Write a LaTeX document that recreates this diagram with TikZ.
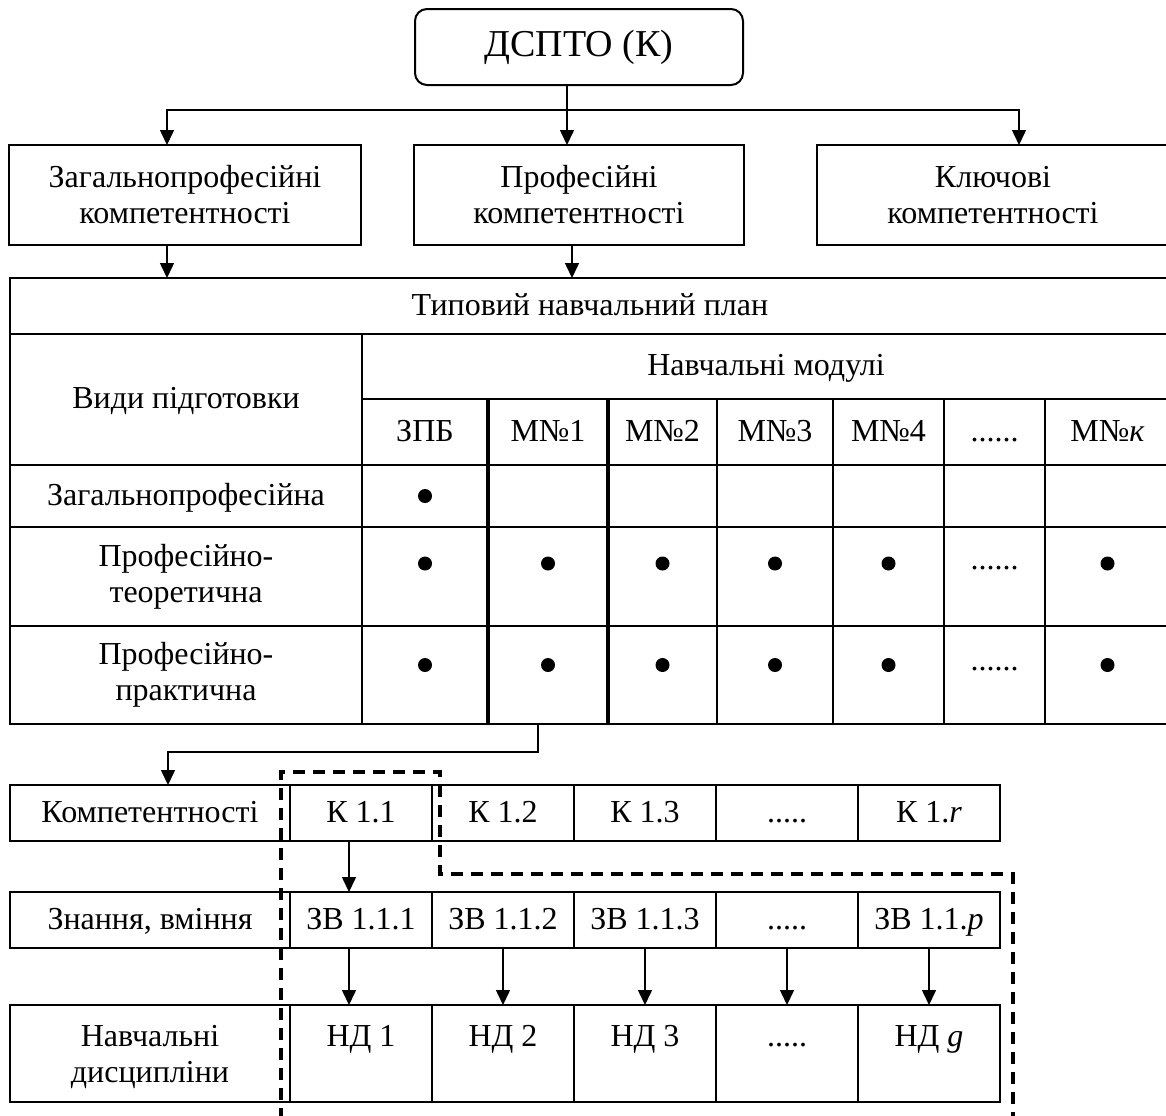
\documentclass[tikz,border=0pt]{standalone}
\usepackage{fontspec}
\setmainfont{Liberation Serif}
\usetikzlibrary{arrows.meta,positioning}
\newcommand{\modgap}{......}
\newcommand{\ndtop}{\rule{0pt}{16pt}\strut}

\begin{document}
\begin{tikzpicture}[x=0.5pt, y=-0.5pt, >={Triangle[length=7.5pt,width=7pt]}, line width=0.75pt]

    \tikzstyle{box} = [rectangle, draw=black, line width=1pt, inner sep=0pt, outer sep=0pt, align=center, font=\fontsize{16}{18}\selectfont]
    \tikzstyle{oneline} = [text height=0.9em, text depth=0pt]
    \tikzstyle{kcell} = [box, oneline, minimum width=71pt, minimum height=28pt]
    \tikzstyle{ndcell} = [box, minimum width=71pt, minimum height=48.5pt]
    \tikzstyle{dot} = [circle, fill=black, inner sep=0pt, minimum size=7pt]
    \tikzstyle{modline} = [line width=2pt]
    \tikzstyle{cut} = [line width=2pt, dash pattern=on 6pt off 4pt]

    \useasboundingbox (0,0) rectangle (1166,1115);

    \node (dspto)  [box, rounded corners=6pt, minimum width=164pt, minimum height=38pt, font=\fontsize{19}{22}\selectfont] at (579,47) {ДСПТО (К)};

    \node (prof)   [box, minimum width=165pt, minimum height=50pt, below=30pt of dspto]   {Професійні\\компетентності};
    \node (zag)    [box, minimum width=176pt, minimum height=50pt, left=26.5pt of prof]   {Загальнопрофесійні\\компетентності};
    \node (kluch)  [box, minimum width=176pt, minimum height=50pt, right=36.5pt of prof]  {Ключові\\компетентності};

    % typical plan
    \node (plan)   [box, oneline, minimum width=580pt, minimum height=28pt]   at (590,306)   {Типовий навчальний план};
    \node (vydy)   [box, oneline, minimum width=176pt, minimum height=65.5pt] at (186,399.5) {Види підготовки};
    \node (moduli) [box, oneline, minimum width=404pt, minimum height=32.5pt] at (766,366.5) {Навчальні модулі};
    \node (zrow)   [box, oneline, minimum width=176pt, minimum height=31pt]   at (186,496)   {Загальнопрофесійна};
    \node (trow)   [box, minimum width=176pt, minimum height=49.5pt] at (186,576.5) {Професійно-\\теоретична};
    \node (prow)   [box, minimum width=176pt, minimum height=49pt]   at (186,675)   {Професійно-\\практична};

    \foreach \xa/\xb/\t [count=\i] in {362/488/ЗПБ, 488/608/М№1, 608/717/М№2, 717/833/М№3, 833/944/М№4, 944/1045/\modgap, 1045/1170/М№\textit{к}}
    {
        \node (h\i) [box, oneline, minimum width={(\xb-\xa)/2}, minimum height=33pt]   at ({(\xa+\xb)/2},432)   {\t};
        \node (z\i) [box, minimum width={(\xb-\xa)/2}, minimum height=31pt]   at ({(\xa+\xb)/2},496)   {};
        \node (t\i) [box, minimum width={(\xb-\xa)/2}, minimum height=49.5pt] at ({(\xa+\xb)/2},576.5) {};
        \node (p\i) [box, minimum width={(\xb-\xa)/2}, minimum height=49pt]   at ({(\xa+\xb)/2},675)   {};
    }

    \node (zd1) [dot] at (z1.center) {};
    \foreach \i in {1,2,3,4,5,7}
    {
        \node (td\i) [dot] at ([yshift=6.5pt]t\i.center) {};
        \node (pd\i) [dot] at ([yshift=5pt]p\i.center) {};
    }
    \node (tdots) [font=\fontsize{16}{18}\selectfont, inner sep=0pt] at ([yshift=4.2pt]t6.center) {\modgap};
    \node (pdots) [font=\fontsize{16}{18}\selectfont, inner sep=0pt] at ([yshift=3pt]p6.center) {\modgap};

    \draw[modline] (h2.north west) -- (p2.south west) (h2.north east) -- (p2.south east);

    % competences, knowledge, disciplines
    \node (komp)  [box, oneline, minimum width=140pt, minimum height=28pt] at (150,813) {Компетентності};
    \node (k1)    [kcell, right=0pt of komp]  {К 1.1};
    \node (k2)    [kcell, right=0pt of k1]    {К 1.2};
    \node (k3)    [kcell, right=0pt of k2]    {К 1.3};
    \node (k4)    [kcell, right=0pt of k3]    {.....};
    \node (k5)    [kcell, right=0pt of k4]    {К 1.\textit{r}};

    \node (znan)  [box, oneline, minimum width=140pt, minimum height=28pt, below=25.5pt of komp] {Знання, вміння};
    \node (zv1)   [kcell, right=0pt of znan]  {ЗВ 1.1.1};
    \node (zv2)   [kcell, right=0pt of zv1]   {ЗВ 1.1.2};
    \node (zv3)   [kcell, right=0pt of zv2]   {ЗВ 1.1.3};
    \node (zv4)   [kcell, right=0pt of zv3]   {.....};
    \node (zv5)   [kcell, right=0pt of zv4]   {ЗВ 1.1.\textit{p}};

    \node (ndrow) [box, minimum width=140pt, minimum height=48.5pt, below=28.5pt of znan] {\ndtop Навчальні\\\strut дисципліни};
    \node (nd1)   [ndcell, right=0pt of ndrow] {\ndtop НД 1\\\strut};
    \node (nd2)   [ndcell, right=0pt of nd1]   {\ndtop НД 2\\\strut};
    \node (nd3)   [ndcell, right=0pt of nd2]   {\ndtop НД 3\\\strut};
    \node (nd4)   [ndcell, right=0pt of nd3]   {\ndtop .....\\\strut};
    \node (nd5)   [ndcell, right=0pt of nd4]   {\ndtop НД \textit{g}\\\strut};

    % connectors
    \draw[->] ([xshift=-6pt]dspto.south) -- ([xshift=-6pt]dspto.south |- prof.north);
    \draw[->] ([xshift=-6pt]dspto.south) ++(0,25) -| ([xshift=-9pt]zag.north);
    \draw[->] ([xshift=-6pt]dspto.south) ++(0,25) -| ([xshift=13pt]kluch.north);
    \draw[->] ([xshift=-9pt]zag.south) -- ([xshift=-9pt]zag.south |- plan.north);
    \draw[->] ([xshift=-3.5pt]prof.south) -- ([xshift=-3.5pt]prof.south |- plan.north);
    \draw[->] ([xshift=-5pt]p2.south) -- ++(0,28) -| ([xshift=9pt]komp.north);
    \draw[->] ([xshift=-6pt]k1.south) -- ([xshift=-6pt]zv1.north);
    \draw[->] ([xshift=-6pt]zv1.south) -- ([xshift=-6pt]nd1.north);
    \foreach \i in {2,...,5}
        \draw[->] (zv\i.south) -- (nd\i.north);

    \draw[cut] (281,1120) -- (281,772) -- (440,772) -- (440,874) -- (1013,874) -- (1013,1120);
\end{tikzpicture}
\end{document}
